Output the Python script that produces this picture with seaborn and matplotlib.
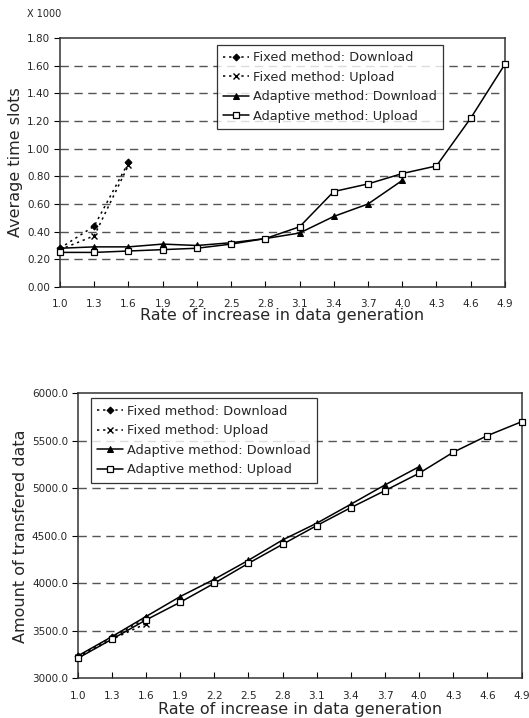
import numpy as np
import pandas as pd
import matplotlib
matplotlib.use("Agg")
import matplotlib.pyplot as plt
import seaborn as sns

# ---- data ----
rates = [1.0, 1.3, 1.6, 1.9, 2.2, 2.5, 2.8, 3.1, 3.4, 3.7, 4.0, 4.3, 4.6, 4.9]
rate_labels = ["1.0", "1.3", "1.6", "1.9", "2.2", "2.5", "2.8", "3.1", "3.4", "3.7", "4.0", "4.3", "4.6", "4.9"]

# top chart: average time slots (x 1000)
ts_fixed_down = [0.28, 0.44, 0.90]
ts_fixed_up = [0.27, 0.37, 0.88]
ts_adapt_down = [0.28, 0.29, 0.29, 0.31, 0.30, 0.32, 0.35, 0.39, 0.51, 0.60, 0.77]
ts_adapt_up = [0.25, 0.25, 0.26, 0.27, 0.28, 0.31, 0.35, 0.435, 0.69, 0.745, 0.82, 0.875, 1.22, 1.61]

# bottom chart: amount of transferred data
td_fixed_down = [3230, 3430, 3630]
td_fixed_up = [3220, 3410, 3575]
td_adapt_down = [3235, 3438, 3650, 3860, 4042, 4242, 4456, 4632, 4832, 5035, 5227]
td_adapt_up = [3210, 3411, 3614, 3800, 4000, 4210, 4410, 4607, 4796, 4975, 5158, 5379, 5554, 5700]

series_names = ["Fixed method: Download", "Fixed method: Upload",
                "Adaptive method: Download", "Adaptive method: Upload"]

sns.set_theme(style="white")
plt.rcParams['font.family'] = ['DejaVu Sans']

fig = plt.figure(figsize=(5.29, 7.18), dpi=100)
ax1 = fig.add_axes([0.1134, 0.6003, 0.841, 0.3468])
ax2 = fig.add_axes([0.1469, 0.0553, 0.839, 0.397])

styles = [
    dict(marker="D", linestyle=(0, (1.5, 2.5)), markersize=3.5, mfc="black", mec="black"),
    dict(marker="x", linestyle=(0, (1.5, 2.5)), markersize=4.5, mfc="black", mec="black", mew=1.0),
    dict(marker="^", linestyle="-", markersize=4.5, mfc="black", mec="black"),
    dict(marker="s", linestyle="-", markersize=4.2, mfc="white", mec="black", mew=0.9),
]


def draw(ax, data, yticks, ylim, fmt, ylabel, xlabelpad):
    for name, vals, st in zip(series_names, data, styles):
        df = pd.DataFrame({"x": rates[:len(vals)], "y": vals})
        sns.lineplot(data=df, x="x", y="y", ax=ax, color="black", linewidth=1.1,
                     label=name, clip_on=False, zorder=3, **st)
    ax.set_xlim(1.0, 4.9)
    ax.set_ylim(*ylim)
    ax.set_xticks(rates)
    ax.set_xticklabels(rate_labels, fontsize=7.5)
    ax.set_yticks(yticks)
    ax.set_yticklabels([fmt.format(v) for v in yticks], fontsize=7.5)
    for v in yticks[1:-1]:
        ax.axhline(v, color="#555555", linewidth=1.0, linestyle=(0, (6, 4)), zorder=1)
    ax.tick_params(axis="x", direction="in", length=4, width=0.8, color="black", pad=9)
    ax.tick_params(axis="y", direction="out", length=4, width=0.8, color="black", pad=3)
    ax.tick_params(bottom=True, left=True)
    for s in ax.spines.values():
        s.set_color("#333333")
        s.set_linewidth(1.1)
    ax.set_xlabel("Rate of increase in data generation", fontsize=11.5, labelpad=xlabelpad)
    ax.set_ylabel(ylabel, fontsize=11.5, labelpad=3)


draw(ax1, [ts_fixed_down, ts_fixed_up, ts_adapt_down, ts_adapt_up],
     [0.0, 0.2, 0.4, 0.6, 0.8, 1.0, 1.2, 1.4, 1.6, 1.8], (0, 1.8), "{:.2f}",
     "Average time slots", -1)
draw(ax2, [td_fixed_down, td_fixed_up, td_adapt_down, td_adapt_up],
     [3000, 3500, 4000, 4500, 5000, 5500, 6000], (3000, 6000), "{:.1f}",
     "Amount of transfered data", 1)

fig.text(27 / 529, 1 - 14 / 718, "X 1000", fontsize=7, va="center", ha="left")

for ax, anchor in [(ax1, (216.7 / 529, 1 - 45 / 718)), (ax2, (90.7 / 529, 1 - 398.3 / 718))]:
    leg = ax.legend(loc="upper left", bbox_to_anchor=anchor, bbox_transform=fig.transFigure,
                    fontsize=9.3, frameon=True, fancybox=False, handlelength=2.0,
                    handletextpad=0.3, labelspacing=0.5, borderpad=0.5, borderaxespad=0)
    leg.get_frame().set_edgecolor("black")
    leg.get_frame().set_linewidth(0.9)
    leg.set_zorder(5)

fig.savefig("out.png", dpi=100, facecolor="white")
